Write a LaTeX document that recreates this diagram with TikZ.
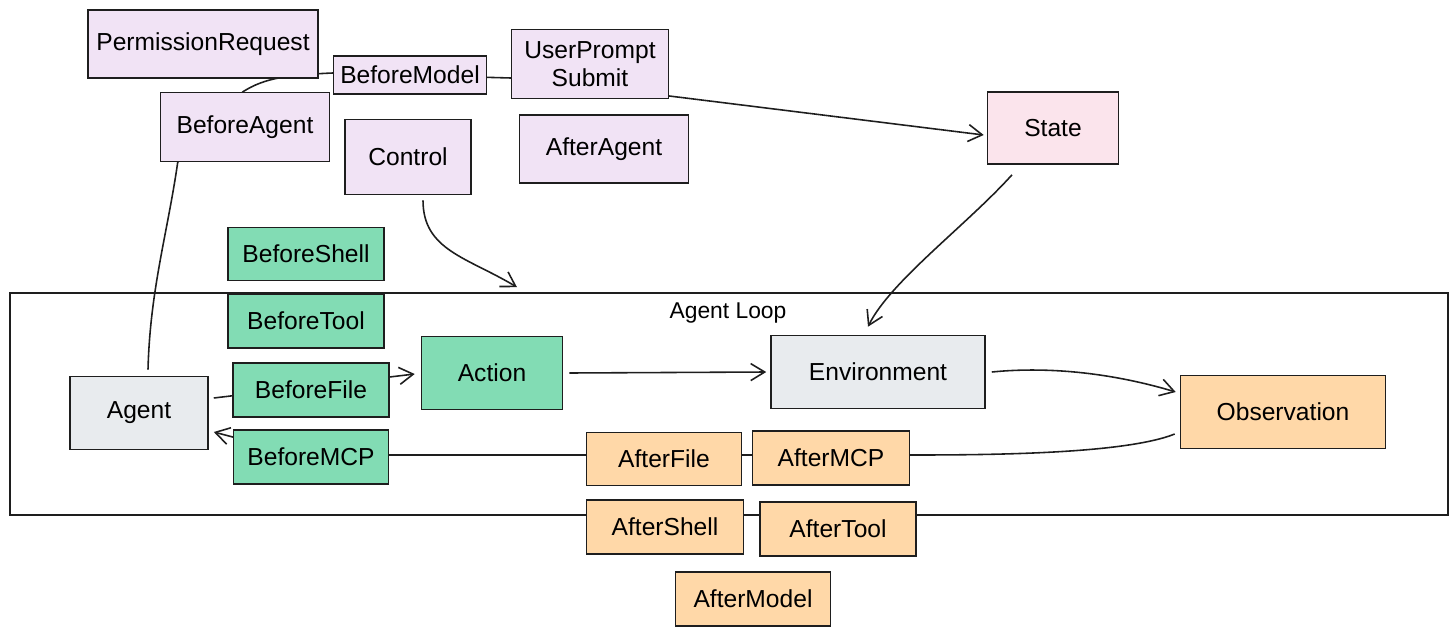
\documentclass[tikz,border=0pt]{standalone}
\usepackage{fontspec}
\setmainfont{Liberation Sans}
\usetikzlibrary{arrows.meta,calc}
\definecolor{ink}{HTML}{1E1E1E}
\definecolor{lifepurple}{HTML}{F1E3F5}
\definecolor{pregreen}{HTML}{82DCB4}
\definecolor{postorange}{HTML}{FFD8A8}
\definecolor{coregrey}{HTML}{E8EBEE}
\definecolor{statepink}{HTML}{FBE4EC}
\pgfdeclarelayer{bg}
\pgfsetlayers{bg,main}

\begin{document}
\begin{tikzpicture}[x=0.02cm,y=-0.02cm,line width=0.9pt,
  box/.style={draw=ink,inner sep=0pt,align=center,font=\fontsize{14}{16}\selectfont},
  wh/.style 2 args={minimum width=#1*0.02cm,minimum height=#2*0.02cm},
  lifecycle/.style={box,fill=lifepurple},
  pre/.style={box,fill=pregreen},
  post/.style={box,fill=postorange},
  core/.style={box,fill=coregrey},
  arr/.style={draw=ink,line width=0.9pt,-{Straight Barb[length=2.8mm,width=3.4mm]}}]
\useasboundingbox (0,0) rectangle (1456,635);
\node[draw=ink,wh={1438}{222}] (loop) at (729,404) {};
\node[font=\fontsize{13}{15}\selectfont] (looplabel) at (728,313) {Agent Loop};
\coordinate (ctrltip) at ($(loop.north)+(-212,-5)$);
\node[lifecycle,wh={230}{68}] (permreq) at (203,44) {PermissionRequest};
\node[lifecycle,wh={153}{38}] (beforemodel) at (410,75) {BeforeModel};
\node[lifecycle,wh={157}{69}] (userprompt) at (590,64) {UserPrompt\\Submit};
\node[lifecycle,wh={169}{69}] (beforeagent) at (245,127) {BeforeAgent};
\node[lifecycle,wh={126}{75}] (control) at (408,157) {Control};
\node[lifecycle,wh={169}{68}] (afteragent) at (604,149) {AfterAgent};
\node[box,fill=statepink,wh={131}{72}] (state) at (1053,128) {State};
\node[pre,wh={156}{53}] (beforeshell) at (306,254) {BeforeShell};
\node[pre,wh={156}{54}] (beforetool) at (306,321) {BeforeTool};
\node[pre,wh={156}{54}] (beforefile) at (311,390) {BeforeFile};
\node[pre,wh={155}{54}] (beforemcp) at (311,457) {BeforeMCP};
\node[core,wh={138}{73}] (agent) at (139,413) {Agent};
\node[pre,wh={141}{73}] (action) at (492,373) {Action};
\node[core,wh={214}{73}] (environment) at (878,372) {Environment};
\node[post,wh={205}{73}] (observation) at (1283,412) {Observation};
\node[post,wh={155}{53}] (afterfile) at (664,459) {AfterFile};
\node[post,wh={157}{54}] (aftermcp) at (831,458) {AfterMCP};
\node[post,wh={157}{54}] (aftershell) at (665,527) {AfterShell};
\node[post,wh={156}{54}] (aftertool) at (838,529) {AfterTool};
\node[post,wh={155}{54}] (aftermodel) at (753,599) {AfterModel};
\begin{pgfonlayer}{bg}
\draw[arr] ($(agent.north)+(9,-6)$) .. controls +(2,-80) and +(-10,70) .. ($(beforeagent.south west)+(18,0)$)
  -- ($(beforeagent.north)+(-2,0)$) .. controls +(22,-14) and +(-45,2) .. ($(beforemodel.west)+(0,-2)$)
  -- ($(userprompt.west)+(0,14)$) -- ($(userprompt.east)+(0,32)$) -- ($(state.west)+(-3,7)$);
\draw[arr] ($(state.south)+(-41,10)$) .. controls +(-45,50) and +(22,-45) .. ($(environment.north)+(-10,-8)$);
\draw[arr] ($(control.south)+(15,5)$) .. controls +(0,50) and +(-50,-30) .. (ctrltip);
\draw[arr] ($(agent.east)+(5,-15)$) -- ($(action.west)+(-6,1)$);
\draw[arr] ($(action.east)+(6,0)$) -- ($(environment.west)+(-4,0)$);
\draw[arr] ($(environment.east)+(6,0)$) .. controls +(60,-6) and +(-60,-18) .. ($(observation.west)+(-4,-20)$);
\draw[arr] ($(observation.west)+(-5,22)$) .. controls +(-50,20) and +(80,0) .. ($(aftermcp.east)+(0,-3)$)
  -- ($(beforemcp.east)+(0,-2)$) -- ($(beforemcp.west)+(0,-20)$) -- ($(agent.east)+(5,19)$);
\end{pgfonlayer}
\end{tikzpicture}
\end{document}
